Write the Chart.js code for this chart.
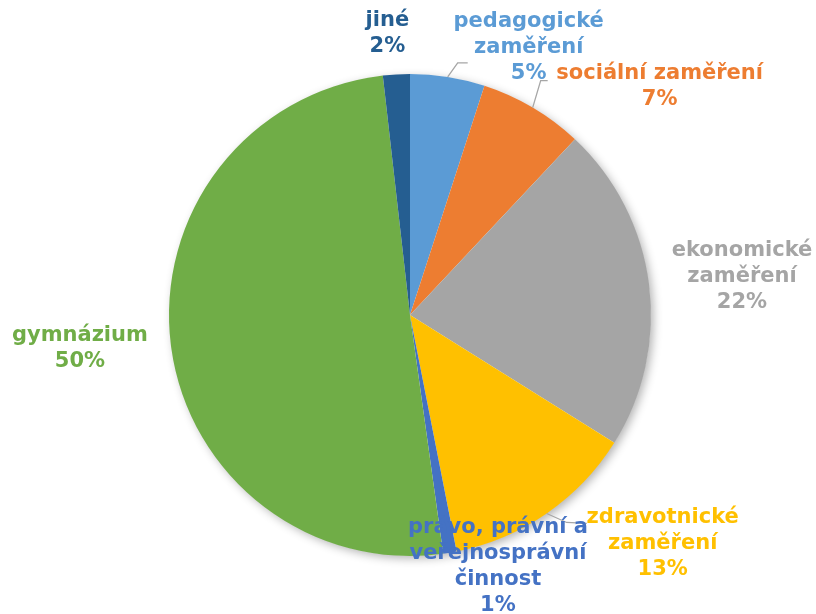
<!DOCTYPE html>
<html>
<head>
<meta charset="utf-8">
<script src="https://cdn.jsdelivr.net/npm/chart.js@4/dist/chart.umd.min.js"></script>
<style>
html,body{margin:0;padding:0;background:#fff;}
#wrap{width:816px;height:614px;position:relative;}
</style>
</head>
<body>
<div id="wrap"><canvas id="c" width="816" height="614"></canvas></div>
<script>
// Data
const categories = [
  ["pedagogické", "zaměření"],
  ["sociální zaměření"],
  ["ekonomické", "zaměření"],
  ["zdravotnické", "zaměření"],
  ["právo, právní a", "veřejnosprávní", "činnost"],
  ["gymnázium"],
  ["jiné"]
];
const values = [5.0, 7.0, 21.9, 13.0, 0.9, 50.4, 1.8];
const percentLabels = ["5%", "7%", "22%", "13%", "1%", "50%", "2%"];
const colors = ["#5B9BD5", "#ED7D31", "#A5A5A5", "#FFC000", "#4472C4", "#70AD47", "#255E91"];

// Label layout: offset of the label block centre from the slice's outer mid-point
const labelOffsets = [[81, -29], [127, -21], [93, -7], [116, 30], [48, 14], [-91, 3], [-9, -41]];
// Leader line elbows, relative to the slice's outer mid-point (null = none)
const leaders = [[[0,0],[10,-14],[20,-14]], [[0,0],[8,-27],[15,-27]], null, [[0,0],[20,9],[40,10]], null, null, null];

const shadowPlugin = {
  id: 'pieShadow',
  beforeDatasetsDraw(chart) {
    const arc = chart.getDatasetMeta(0).data[0];
    if (!arc) return;
    const ctx = chart.ctx;
    ctx.save();
    ctx.shadowColor = 'rgba(0,0,0,0.3)';
    ctx.shadowBlur = 10;
    ctx.shadowOffsetX = 3;
    ctx.shadowOffsetY = 3;
    ctx.fillStyle = '#ffffff';
    ctx.beginPath();
    ctx.arc(arc.x, arc.y, arc.outerRadius - 0.5, 0, Math.PI * 2);
    ctx.fill();
    ctx.restore();
  }
};

const labelPlugin = {
  id: 'pieLabels',
  afterDatasetsDraw(chart) {
    const ctx = chart.ctx;
    const meta = chart.getDatasetMeta(0);
    ctx.save();
    meta.data.forEach((arc, i) => {
      const mid = (arc.startAngle + arc.endAngle) / 2;
      const ex = arc.x + arc.outerRadius * Math.cos(mid);
      const ey = arc.y + arc.outerRadius * Math.sin(mid);
      const ld = leaders[i];
      if (ld) {
        ctx.strokeStyle = '#A6A6A6';
        ctx.lineWidth = 1.3;
        ctx.beginPath();
        ld.forEach((p, k) => {
          if (k === 0) ctx.moveTo(ex + p[0], ey + p[1]);
          else ctx.lineTo(ex + p[0], ey + p[1]);
        });
        ctx.stroke();
      }
      const lines = categories[i].concat([percentLabels[i]]);
      const lh = 26;
      const cx = ex + labelOffsets[i][0];
      const cy = ey + labelOffsets[i][1];
      const top = cy - (lines.length - 1) * lh / 2;
      ctx.fillStyle = colors[i];
      ctx.font = 'bold 21px "DejaVu Sans", Verdana, sans-serif';
      ctx.textAlign = 'center';
      ctx.textBaseline = 'middle';
      lines.forEach((t, k) => ctx.fillText(t, cx, top + k * lh));
    });
    ctx.restore();
  }
};

new Chart(document.getElementById('c'), {
  type: 'pie',
  data: {
    labels: categories.map(c => c.join(' ')),
    datasets: [{
      data: values,
      backgroundColor: colors,
      borderWidth: 0,
      hoverOffset: 0
    }]
  },
  options: {
    responsive: false,
    animation: false,
    layout: { padding: { top: 74, bottom: 58, left: 169, right: 165 } },
    plugins: { legend: { display: false }, tooltip: { enabled: false } },
    events: []
  },
  plugins: [shadowPlugin, labelPlugin]
});
</script>
</body>
</html>
